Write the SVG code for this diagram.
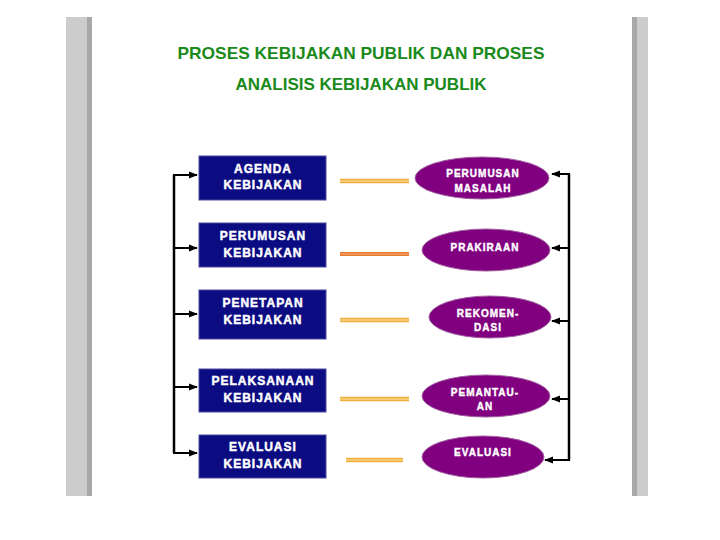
<svg xmlns="http://www.w3.org/2000/svg" width="720" height="540" viewBox="0 0 720 540">
<style>
.title{font-family:"Liberation Sans",Arial,sans-serif;font-weight:bold;font-size:17px;fill:#1a8a1a;text-anchor:middle}
.box rect{fill:#0b0b82;stroke:#4a4aa0;stroke-width:1}
.box text{font-family:"Liberation Sans",Arial,sans-serif;font-weight:bold;font-size:12px;fill:#fff;stroke:#fff;stroke-width:0.45;text-anchor:middle;letter-spacing:1px}
.oval ellipse{fill:#800080;stroke:#a060a0;stroke-width:1}
.oval text{font-family:"Liberation Sans",Arial,sans-serif;font-weight:bold;font-size:10px;fill:#fff;stroke:#fff;stroke-width:0.4;text-anchor:middle;letter-spacing:1px}
.con{stroke:#000;stroke-width:2.5;fill:none}
.arr{stroke:#000;stroke-width:2;fill:none}
.dbl{stroke:#f0b040;stroke-width:4.5;fill:none}
.dbl2{stroke:#fde2a0;stroke-width:1;fill:none}
</style>
<defs>
<marker id="ah" viewBox="0 0 10 10" refX="9" refY="5" markerWidth="4.5" markerHeight="4.5" orient="auto" markerUnits="strokeWidth">
<path d="M0,1 L10,5 L0,9 z" fill="#000"/>
</marker>
</defs>
<rect width="720" height="540" fill="#fff"/>
<rect x="66" y="17" width="26" height="479" fill="#cccccc"/>
<rect x="87" y="17" width="5" height="479" fill="#a8a8a8"/>
<rect x="632" y="17" width="16" height="479" fill="#cccccc"/>
<rect x="632" y="17" width="5" height="479" fill="#a8a8a8"/>
<g id="title">
<text class="title" x="361" y="59" textLength="367" lengthAdjust="spacingAndGlyphs">PROSES KEBIJAKAN PUBLIK DAN PROSES</text>
<text class="title" x="361" y="90" textLength="251" lengthAdjust="spacingAndGlyphs">ANALISIS KEBIJAKAN PUBLIK</text>
</g>
<g id="b1" class="box"><rect x="199" y="156" width="127" height="44"/><text x="263" y="173">AGENDA</text><text x="263" y="189">KEBIJAKAN</text></g>
<g id="b2" class="box"><rect x="199" y="223" width="127" height="44"/><text x="263" y="240">PERUMUSAN</text><text x="263" y="257">KEBIJAKAN</text></g>
<g id="b3" class="box"><rect x="199" y="290" width="127" height="49"/><text x="263" y="307">PENETAPAN</text><text x="263" y="324">KEBIJAKAN</text></g>
<g id="b4" class="box"><rect x="199" y="369" width="127" height="43"/><text x="263" y="385">PELAKSANAAN</text><text x="263" y="402">KEBIJAKAN</text></g>
<g id="b5" class="box"><rect x="199" y="435" width="127" height="43"/><text x="263" y="451">EVALUASI</text><text x="263" y="468">KEBIJAKAN</text></g>
<g id="e1" class="oval"><ellipse cx="482" cy="178" rx="67" ry="21"/><text x="483" y="177">PERUMUSAN</text><text x="483" y="192">MASALAH</text></g>
<g id="e2" class="oval"><ellipse cx="486" cy="250" rx="64" ry="21"/><text x="485" y="251">PRAKIRAAN</text></g>
<g id="e3" class="oval"><ellipse cx="490" cy="317" rx="61" ry="21"/><text x="488" y="317">REKOMEN-</text><text x="488" y="331">DASI</text></g>
<g id="e4" class="oval"><ellipse cx="486" cy="396" rx="64" ry="21"/><text x="485" y="396">PEMANTAU-</text><text x="485" y="410">AN</text></g>
<g id="e5" class="oval"><ellipse cx="483" cy="457" rx="61" ry="21"/><text x="483" y="456">EVALUASI</text></g>
<g id="connectors">
<path class="con" d="M174,175 V453"/>
<path class="arr" d="M173,175 H197" marker-end="url(#ah)"/>
<path class="arr" d="M173,248 H197" marker-end="url(#ah)"/>
<path class="arr" d="M173,314 H197" marker-end="url(#ah)"/>
<path class="arr" d="M173,387 H197" marker-end="url(#ah)"/>
<path class="arr" d="M173,453 H197" marker-end="url(#ah)"/>
<path class="con" d="M569,174 V460"/>
<path class="arr" d="M570,174 H552" marker-end="url(#ah)"/>
<path class="arr" d="M570,248 H552" marker-end="url(#ah)"/>
<path class="arr" d="M570,321 H552" marker-end="url(#ah)"/>
<path class="arr" d="M570,399 H552" marker-end="url(#ah)"/>
<path class="arr" d="M570,460 H545" marker-end="url(#ah)"/>
<path class="dbl" d="M340,181 H409"/><path class="dbl2" d="M340,181 H409"/>
<path d="M340,254 H409" stroke="#e87a30" stroke-width="4" fill="none"/><path d="M340,254 H409" stroke="#f8b890" stroke-width="0.8" fill="none"/>
<path class="dbl" d="M340,320 H409"/><path class="dbl2" d="M340,320 H409"/>
<path class="dbl" d="M340,399 H409"/><path class="dbl2" d="M340,399 H409"/>
<path class="dbl" d="M346,460 H403"/><path class="dbl2" d="M346,460 H403"/>
</g>
</svg>
